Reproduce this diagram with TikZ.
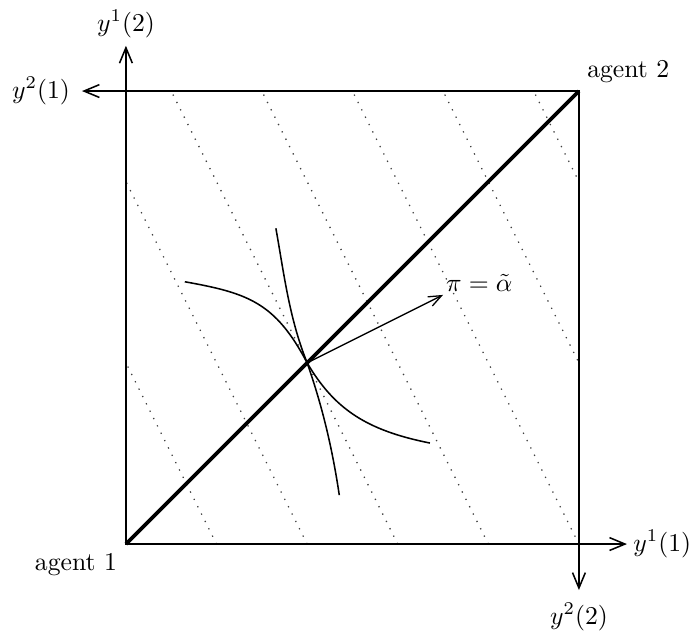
\documentclass[tikz,border=0pt]{standalone}
\usepackage{tikz}
\usetikzlibrary{arrows.meta, positioning}

\begin{document}
\begin{tikzpicture}[x=6.2cm, y=6.2cm,
        axis/.style={-{Straight Barb[length=6pt, width=5pt]}, line width=0.6pt},
        priceline/.style={line width=0.5pt, dash pattern=on 0.5pt off 2.7pt, black!75},
        indiff/.style={line width=0.6pt},
        lbl/.style={inner sep=2pt}]
        \useasboundingbox (-0.278,-0.190) rectangle (1.254,1.201);
        \coordinate (o1) at (0,0);
        \coordinate (o2) at (1,1);
        \coordinate (up) at (0,1.1);
        \coordinate (lf) at (-0.097,1);
        \coordinate (rt) at (1.106,0);
        \coordinate (dn) at (1,-0.1015);
        \coordinate (eq) at (0.4,0.4);
        \coordinate (pt) at (0.7,0.55);
        % price lines
        \begin{scope}
          \clip (o1) rectangle (o2);
          \foreach \lev in {0.2,0.4,...,1.4}
            \draw[priceline] (\lev,0) -- (\lev-0.5,1);
        \end{scope}
        \draw[line width=0.6pt] (o1) rectangle (o2);
        \draw[axis] (o1) -- (up);
        \draw[axis] (o2) -- (lf);
        \draw[axis] (o1) -- (rt);
        \draw[axis] (o2) -- (dn);
        \draw[line width=1.5pt] (o1) -- (o2);
        % indifference curves
        \draw[indiff] (0.130,0.579) .. controls (0.27,0.554) and (0.33,0.533) .. (eq)
          .. controls (0.46,0.298) and (0.531,0.251) .. (0.671,0.223);
        \draw[indiff] (0.331,0.697) .. controls (0.349,0.597) and (0.36,0.5) .. (eq)
          .. controls (0.435,0.3) and (0.456,0.208) .. (0.471,0.108);
        \draw[-{Straight Barb[length=5pt, width=4pt]}, line width=0.5pt] (eq) -- (pt);
        \node[inner sep=1pt, above right=0pt of pt] (pi) {$\pi = \tilde{\alpha}$};
        % labels
        \node[lbl, above=1pt of up] (y12) {$y^1(2)$};
        \node[lbl, left=2.5pt of lf] (y21) {$y^2(1)$};
        \node[lbl, right=0.3pt of rt] (y11) {$y^1(1)$};
        \node[lbl, below=3pt of dn] (y22) {$y^2(2)$};
        \node[lbl, above right=1.5pt of o2] (ag2) {agent 2};
        \node[lbl, below left=1.8pt of o1] (ag1) {agent 1};
      \end{tikzpicture}
\end{document}
